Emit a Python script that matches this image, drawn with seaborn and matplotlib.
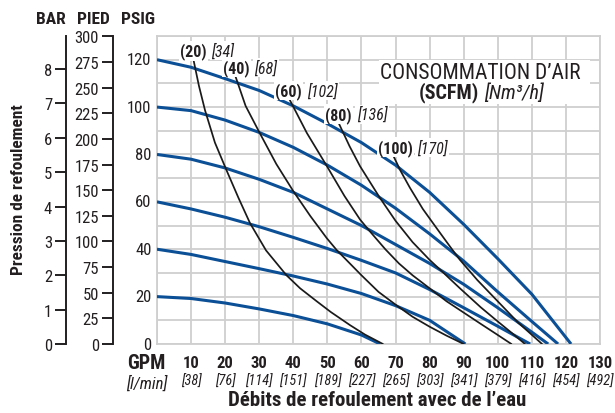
import matplotlib
matplotlib.use("Agg")
import matplotlib.pyplot as plt
from matplotlib import font_manager as fm
import seaborn as sns
from matplotlib.patches import Rectangle

# ---------------- data ----------------
gpm_ticks = [10, 20, 30, 40, 50, 60, 70, 80, 90, 100, 110, 120, 130]
lpm_labels = ["[38]", "[76]", "[114]", "[151]", "[189]", "[227]", "[265]",
              "[303]", "[341]", "[379]", "[416]", "[454]", "[492]"]
psig_ticks = [0, 20, 40, 60, 80, 100, 120]
pied_ticks = [0, 25, 50, 75, 100, 125, 150, 175, 200, 225, 250, 275, 300]
bar_ticks = [0, 1, 2, 3, 4, 5, 6, 7, 8]

# blue curves: discharge pressure (psig) vs flow (gpm) for each air inlet pressure
p120_x = [0, 10, 20, 30, 40, 50, 60, 70, 80, 90, 100, 110, 121.5]
p120_y = [120, 116.8, 112, 107, 100.5, 93, 85, 75.5, 64, 50.5, 36, 21, 0]
p100_x = [0, 10, 20, 30, 40, 50, 60, 70, 80, 90, 100, 110, 117.7]
p100_y = [100, 98.5, 94.5, 89.3, 83, 75.5, 67, 57.3, 46.5, 35, 22, 9.5, 0]
p80_x = [0, 10, 20, 30, 40, 50, 60, 70, 80, 90, 100, 110, 114.8]
p80_y = [80, 78, 74.3, 69.5, 64, 57, 50, 42, 34, 25.2, 15.3, 5, 0]
p60_x = [0, 10, 20, 30, 40, 50, 60, 70, 80, 90, 100, 109.5]
p60_y = [60, 57, 53.5, 49.5, 45, 40.3, 35.3, 30, 23, 15.3, 7.5, 0]
p40_x = [0, 10, 20, 30, 40, 50, 60, 70, 80, 90.5]
p40_y = [40, 37.8, 34.8, 31.8, 28.7, 25.3, 21.3, 16.2, 10, 0]
p20_x = [0, 10, 20, 30, 40, 50, 60, 65.5]
p20_y = [20, 19.2, 17.3, 14.8, 12, 8.5, 3.8, 0]

# black curves: air consumption (SCFM)
a20_x = [10.7, 12.3, 14.1, 17, 20.5, 23.9, 27.3, 32, 38, 42, 46.9, 51, 56.6, 61, 66.3]
a20_y = [120, 109, 98.6, 85, 73, 61.7, 51, 39.5, 29, 23.5, 18, 13.5, 8, 4, 0]
a40_x = [22.9, 26, 30.2, 35, 40, 45, 49.8, 52.7, 60, 65, 70.3, 75, 80, 85, 90]
a40_y = [113.5, 100.5, 88.9, 76, 64.5, 54, 44.7, 39.7, 29, 22, 16.3, 11.5, 7.3, 3.5, 0]
a60_x = [38.5, 44, 49.8, 55, 59.6, 62.5, 67, 71, 75, 80, 85, 88.9, 95, 100, 104]
a60_y = [104.3, 89, 75.2, 62.5, 52.5, 47.5, 40, 34, 29, 23.5, 18, 14.3, 8.5, 3.8, 0]
a80_x = [53.2, 56.5, 59.6, 65.4, 70, 75, 80, 83, 88.9, 95, 100, 104, 108]
a80_y = [93.6, 83.5, 75, 61.7, 52, 43, 35.5, 31.5, 23.5, 15.5, 9.5, 4.8, 0]
a100_x = [69.5, 71.5, 74.2, 78, 82, 86, 88.9, 94, 100, 106, 113]
a100_y = [79, 73, 66, 57, 49, 41.1, 35.5, 27, 18, 9, 0]

scfm_labels = ["(20)", "(40)", "(60)", "(80)", "(100)"]
nm3h_labels = ["[34]", "[68]", "[102]", "[136]", "[170]"]

# ---------------- fonts ----------------
sns.set_theme(style="white")
names = {f.name for f in fm.fontManager.ttflist}
dejavu_cond = any("DejaVu" in f.fname and "Condensed" in f.fname
                  for f in fm.fontManager.ttflist)
SCALE = 1.0
STRETCH = "normal"
if "Liberation Sans Narrow" in names:
    FAM = "Liberation Sans Narrow"
elif "Roboto Condensed" in names:
    FAM = "Roboto Condensed"
elif dejavu_cond:
    FAM = "DejaVu Sans"
    STRETCH = "condensed"
    SCALE = 0.9
else:
    FAM = "Liberation Sans"
    SCALE = 0.86
plt.rcParams["font.family"] = [FAM, "DejaVu Sans"]
plt.rcParams["font.stretch"] = STRETCH


def fs(v):
    return v * SCALE


TXT = "#231f20"
BLUE = "#0b4f96"
GRID = "#cfcfcf"

W, H = 615, 414
fig = plt.figure(figsize=(W / 100, H / 100), dpi=100)
L, R, T, B = 157, 600, 37, 345
ax = fig.add_axes([L / W, 1 - B / H, (R - L) / W, (B - T) / H])
ax.set_xlim(0, 130)
ax.set_ylim(0, 130)

# grid
ax.set_xticks(range(0, 131, 10))
ax.set_yticks(range(0, 131, 10))
ax.grid(True, color=GRID, linewidth=1.3)
ax.set_axisbelow(True)
for s in ax.spines.values():
    s.set_color(GRID)
    s.set_linewidth(1.3)
ax.tick_params(axis="both", length=0, labelbottom=False, labelleft=False)

# PSIG labels
for v in psig_ticks:
    ax.annotate(str(v), xy=(0, v), xycoords="data", xytext=(-4, 0),
                textcoords="offset points", ha="right", va="center",
                fontsize=fs(12), color=TXT)

# x tick labels
for g, l in zip(gpm_ticks, lpm_labels):
    ax.annotate(str(g), xy=(g, 0), xycoords=("data", "axes fraction"),
                xytext=(0, -13.5), textcoords="offset points", ha="center",
                va="center", fontsize=fs(12), fontweight="bold", color=TXT)
    ax.annotate(l, xy=(g, 0), xycoords=("data", "axes fraction"),
                xytext=(0, -26.5), textcoords="offset points", ha="center",
                va="center", fontsize=fs(10.3), fontstyle="italic", color=TXT)
ax.annotate("GPM", xy=(-3.1, 0), xycoords=("data", "axes fraction"),
            xytext=(0, -13), textcoords="offset points", ha="center",
            va="center", fontsize=fs(14.5), fontweight="bold", color=TXT)
ax.annotate("[l/min]", xy=(-3.1, 0), xycoords=("data", "axes fraction"),
            xytext=(0, -27.5), textcoords="offset points", ha="center",
            va="center", fontsize=fs(12), fontstyle="italic", color=TXT)

# secondary axes (feet and bar)
sec_ft = ax.secondary_yaxis((113 - L) / (R - L),
                            functions=(lambda p: p * 2.31, lambda f: f / 2.31))
sec_ft.set_yticks(pied_ticks)
sec_bar = ax.secondary_yaxis((66 - L) / (R - L),
                             functions=(lambda p: p / 14.5038, lambda b: b * 14.5038))
sec_bar.set_yticks(bar_ticks)
for sa in (sec_ft, sec_bar):
    sa.tick_params(direction="out", length=8, width=1.4, labelsize=fs(12),
                   pad=2, colors=TXT)
    for s in sa.spines.values():
        s.set_linewidth(1.4)
        s.set_color(TXT)

# curves
pressure = [(p20_x, p20_y), (p40_x, p40_y), (p60_x, p60_y),
            (p80_x, p80_y), (p100_x, p100_y), (p120_x, p120_y)]
air = [(a20_x, a20_y), (a40_x, a40_y), (a60_x, a60_y),
       (a80_x, a80_y), (a100_x, a100_y)]
for xs, ys in pressure:
    sns.lineplot(x=xs, y=ys, ax=ax, color=BLUE, linewidth=2.2, sort=False,
                 estimator=None, solid_capstyle="butt", solid_joinstyle="round", zorder=3)
for xs, ys in air:
    sns.lineplot(x=xs, y=ys, ax=ax, color="#1a1a1a", linewidth=1.25, sort=False,
                 estimator=None, solid_joinstyle="round", zorder=4)

# air consumption labels
lab_right = [14.6, 27.3, 42.5, 57.1, 75.1]
lab_left = [16.0, 28.5, 43.9, 58.6, 76.2]
lab_y = [123.8, 116.8, 107.0, 97.0, 83.0]
box = dict(facecolor="white", edgecolor="none", pad=1.0)
for s_lab, n_lab, xr, xl, yy in zip(scfm_labels, nm3h_labels, lab_right, lab_left, lab_y):
    ax.text(xr, yy, s_lab, ha="right", va="center", fontsize=fs(11.5),
            fontweight="bold", color=TXT, bbox=box, zorder=5)
    ax.text(xl, yy, n_lab, ha="left", va="center", fontsize=fs(11.5),
            fontstyle="italic", color=TXT, bbox=box, zorder=5)

# legend box text
ax.add_patch(Rectangle((65, 101.5), 62, 18.5, facecolor="white",
                       edgecolor="none", zorder=2))
ax.text(95, 114.6, "CONSOMMATION D\u2019AIR", ha="center", va="center",
        fontsize=fs(15.5), color=TXT, zorder=5)
ax.text(94.5, 106.3, "(SCFM)", ha="right", va="center", fontsize=fs(14.5),
        fontweight="bold", color=TXT, zorder=5)
ax.text(96, 106.3, "[Nm\u00b3/h]", ha="left", va="center", fontsize=fs(14.5),
        fontstyle="italic", color=TXT, zorder=5)

# headers and axis titles
for txt, xc in (("BAR", 51), ("PIED", 93), ("PSIG", 137.5)):
    fig.text(xc / W, 1 - 20 / H, txt, ha="center", va="center", fontsize=fs(12.5),
             fontweight="bold", color=TXT)
fig.text(19 / W, 1 - 190 / H, "Pression de refoulement", rotation=90,
         ha="center", va="center", fontsize=fs(12.5), fontweight="bold", color=TXT)
fig.text(377.5 / W, 1 - 401 / H, "D\u00e9bits de refoulement avec de l\u2019eau",
         ha="center", va="center", fontsize=fs(15), fontweight="bold", color=TXT)

fig.savefig("out.png", dpi=100)
